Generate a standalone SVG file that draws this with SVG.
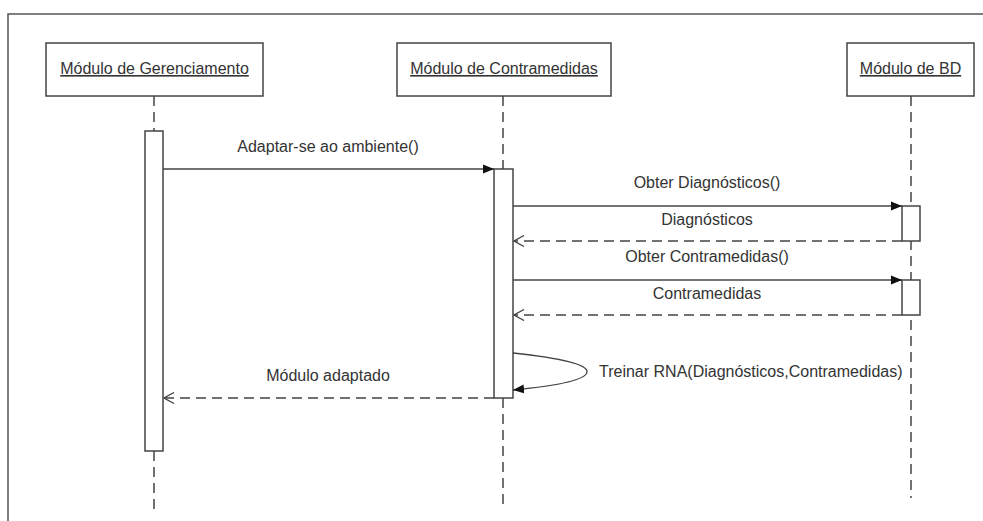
<svg xmlns="http://www.w3.org/2000/svg" width="983" height="521" viewBox="0 0 983 521">
<style>
.box{fill:#fff;stroke:#444;stroke-width:1.5}
.act{fill:#fff;stroke:#444;stroke-width:1.5}
.life{stroke:#444;stroke-width:1.5;stroke-dasharray:10,6;fill:none}
.msg{stroke:#444;stroke-width:1.3;fill:none}
.ret{stroke:#444;stroke-width:1.3;fill:none;stroke-dasharray:10,6}
text{font-family:"Liberation Sans",Arial,sans-serif;font-size:16px;fill:#333}
.lbl{text-anchor:middle}
.ul{text-decoration:underline}
</style>
<defs>
<marker id="filled" viewBox="0 0 11 10" refX="11" refY="5" markerWidth="11" markerHeight="10" markerUnits="userSpaceOnUse" orient="auto">
<path d="M0,0.5 L11,5 L0,9.5 Z" fill="#111"/>
</marker>
<marker id="open" viewBox="0 0 12 12" refX="11" refY="6" markerWidth="12" markerHeight="12" markerUnits="userSpaceOnUse" orient="auto">
<path d="M1,0.5 L11,6 L1,11.5" fill="none" stroke="#444" stroke-width="1.3"/>
</marker>
</defs>
<g id="frame">
<path d="M8,521 L8,14 L983,14" fill="none" stroke="#555" stroke-width="1.5"/>
</g>
<g id="lifelines">
<line class="life" x1="154" y1="96" x2="154" y2="131"/>
<line class="life" x1="154" y1="451" x2="154" y2="509"/>
<line class="life" x1="503" y1="96" x2="503" y2="169"/>
<line class="life" x1="503" y1="398" x2="503" y2="509"/>
<line class="life" x1="911" y1="96" x2="911" y2="498"/>
</g>
<g id="node-gerenciamento">
<rect class="box" x="46" y="43" width="217" height="53"/>
<text class="lbl ul" x="154.5" y="74">Módulo de Gerenciamento</text>
<rect class="act" x="145" y="131" width="18" height="320"/>
</g>
<g id="node-contramedidas">
<rect class="box" x="397" y="43" width="214" height="53"/>
<text class="lbl ul" x="504" y="74">Módulo de Contramedidas</text>
<rect class="act" x="494" y="169" width="19" height="229"/>
</g>
<g id="node-bd">
<rect class="box" x="847" y="43" width="127" height="53"/>
<text class="lbl ul" x="910.5" y="74">Módulo de BD</text>
<rect class="act" x="902" y="206" width="18" height="35"/>
<rect class="act" x="902" y="280" width="18" height="35"/>
</g>
<g id="connectors">
<line class="msg" x1="163" y1="169" x2="494" y2="169" marker-end="url(#filled)"/>
<text class="lbl" x="328" y="152">Adaptar-se ao ambiente()</text>
<line class="msg" x1="513" y1="206" x2="902" y2="206" marker-end="url(#filled)"/>
<text class="lbl" x="707" y="188">Obter Diagnósticos()</text>
<line class="ret" x1="902" y1="241" x2="514" y2="241" marker-end="url(#open)"/>
<text class="lbl" x="707" y="225">Diagnósticos</text>
<line class="msg" x1="513" y1="280" x2="902" y2="280" marker-end="url(#filled)"/>
<text class="lbl" x="707" y="262">Obter Contramedidas()</text>
<line class="ret" x1="902" y1="315" x2="514" y2="315" marker-end="url(#open)"/>
<text class="lbl" x="707" y="299">Contramedidas</text>
<path class="msg" d="M513,353 Q588,361 587,372 Q586,383 513,390" marker-end="url(#filled)"/>
<text x="599" y="377">Treinar RNA(Diagnósticos,Contramedidas)</text>
<line class="ret" x1="494" y1="398" x2="164" y2="398" marker-end="url(#open)"/>
<text class="lbl" x="328" y="381">Módulo adaptado</text>
</g>
</svg>
